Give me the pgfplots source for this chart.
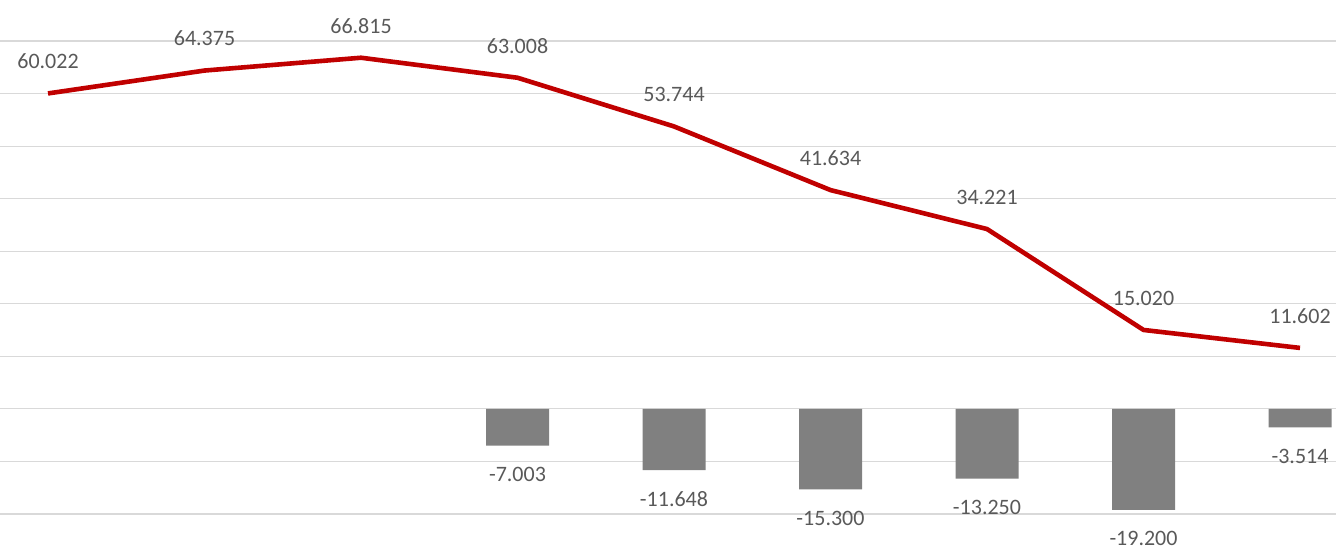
\documentclass[border=0pt]{standalone}
\usepackage{pgfplots}
\pgfplotsset{compat=1.18}
\usepackage{fontspec}
\setmainfont{Carlito}
\definecolor{linered}{HTML}{C00000}
\definecolor{bargray}{HTML}{808080}
\definecolor{lblgray}{HTML}{595959}
\definecolor{gridgray}{HTML}{D9D9D9}
\begin{document}
\begin{tikzpicture}
\begin{axis}[
  scale only axis,
  width=668pt, height=275pt,
  xmin=-0.3067, xmax=8.230,
  ymin=-26.85, ymax=77.8,
  axis line style={draw=none},
  xtick=\empty,
  ytick={-20,-10,0,10,20,30,40,50,60,70},
  yticklabels={},
  major tick style={draw=none},
  ymajorgrids,
  grid style={color=gridgray, line width=0.6pt},
  clip=false,
  point meta=explicit symbolic,
  nodes near coords,
  every node near coord/.append style={font=\fontsize{11}{13}\selectfont, text=lblgray, inner sep=0pt, anchor=center},
]
\addplot[ybar, bar width=31.5pt, bar shift=0pt, fill=bargray, draw=none,
  every node near coord/.append style={yshift=-14.5pt}]
  coordinates {
  (3,-7.003) [-7.003]
  (4,-11.648) [-11.648]
  (5,-15.300) [-15.300]
  (6,-13.250) [-13.250]
  (7,-19.200) [-19.200]
  (8,-3.514) [-3.514]
  };
\addplot[linered, line width=2.3pt, mark=none, line join=round,
  every node near coord/.append style={yshift=16pt}]
  coordinates {
  (0,60.022) [60.022]
  (1,64.375) [64.375]
  (2,66.815) [66.815]
  (3,63.008) [63.008]
  (4,53.744) [53.744]
  (5,41.634) [41.634]
  (6,34.221) [34.221]
  (7,15.020) [15.020]
  (8,11.602) [11.602]
  };
\coordinate (SW) at (rel axis cs:0,0);
\coordinate (NE) at (rel axis cs:1,1);
\end{axis}
\pgfresetboundingbox
\path[use as bounding box] (SW) rectangle (NE);
\end{tikzpicture}
\end{document}
